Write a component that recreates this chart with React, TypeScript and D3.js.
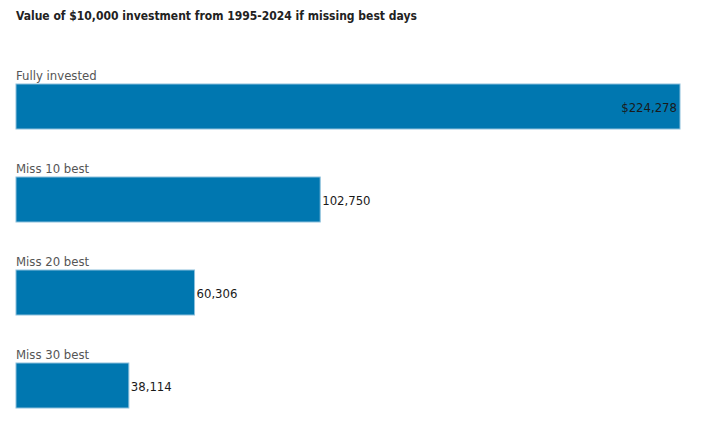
import React from 'react'
import * as d3 from 'd3'

const title = 'Value of $10,000 investment from 1995-2024 if missing best days'
const categories = ['Fully invested', 'Miss 10 best', 'Miss 20 best', 'Miss 30 best']
const values = [224278, 102750, 60306, 38114]
const valueLabels = ['$224,278', '102,750', '60,306', '38,114']

const width = 720
const height = 425
const font = '"Liberation Sans Narrow", "DejaVu Sans Condensed", "Noto Sans", sans-serif'

const App: React.FC = () => {
  const x = d3.scaleLinear().domain([0, d3.max(values) as number]).range([16, 680])
  const y = d3.scaleBand<string>().domain(categories).range([84, 408]).paddingInner(48 / 93).paddingOuter(0)

  return (
    <svg
      width={width}
      height={height}
      style={{ position: 'absolute', left: 0, top: 0, background: '#fff' }}
      fontFamily={font}
    >
      <text x={16} y={20} fontSize={12} fontWeight="bold" fill="#222">
        {title}
      </text>
      {categories.map((c, i) => {
        const y0 = y(c) as number
        const x1 = x(values[i])
        const inside = i === 0
        return (
          <g key={c}>
            <text x={16} y={y0 - 4} fontSize={13} fill="#555">
              {c}
            </text>
            <rect
              x={x(0)}
              y={y0}
              width={x1 - x(0)}
              height={y.bandwidth()}
              fill="#0077b0"
              stroke="#8cc0dc"
              strokeWidth={1}
            />
            <text
              x={inside ? x1 - 3 : x1 + 2}
              y={y0 + y.bandwidth() / 2 + 5}
              fontSize={13}
              fill="#1a1a1a"
              textAnchor={inside ? 'end' : 'start'}
            >
              {valueLabels[i]}
            </text>
          </g>
        )
      })}
    </svg>
  )
}

export default App
